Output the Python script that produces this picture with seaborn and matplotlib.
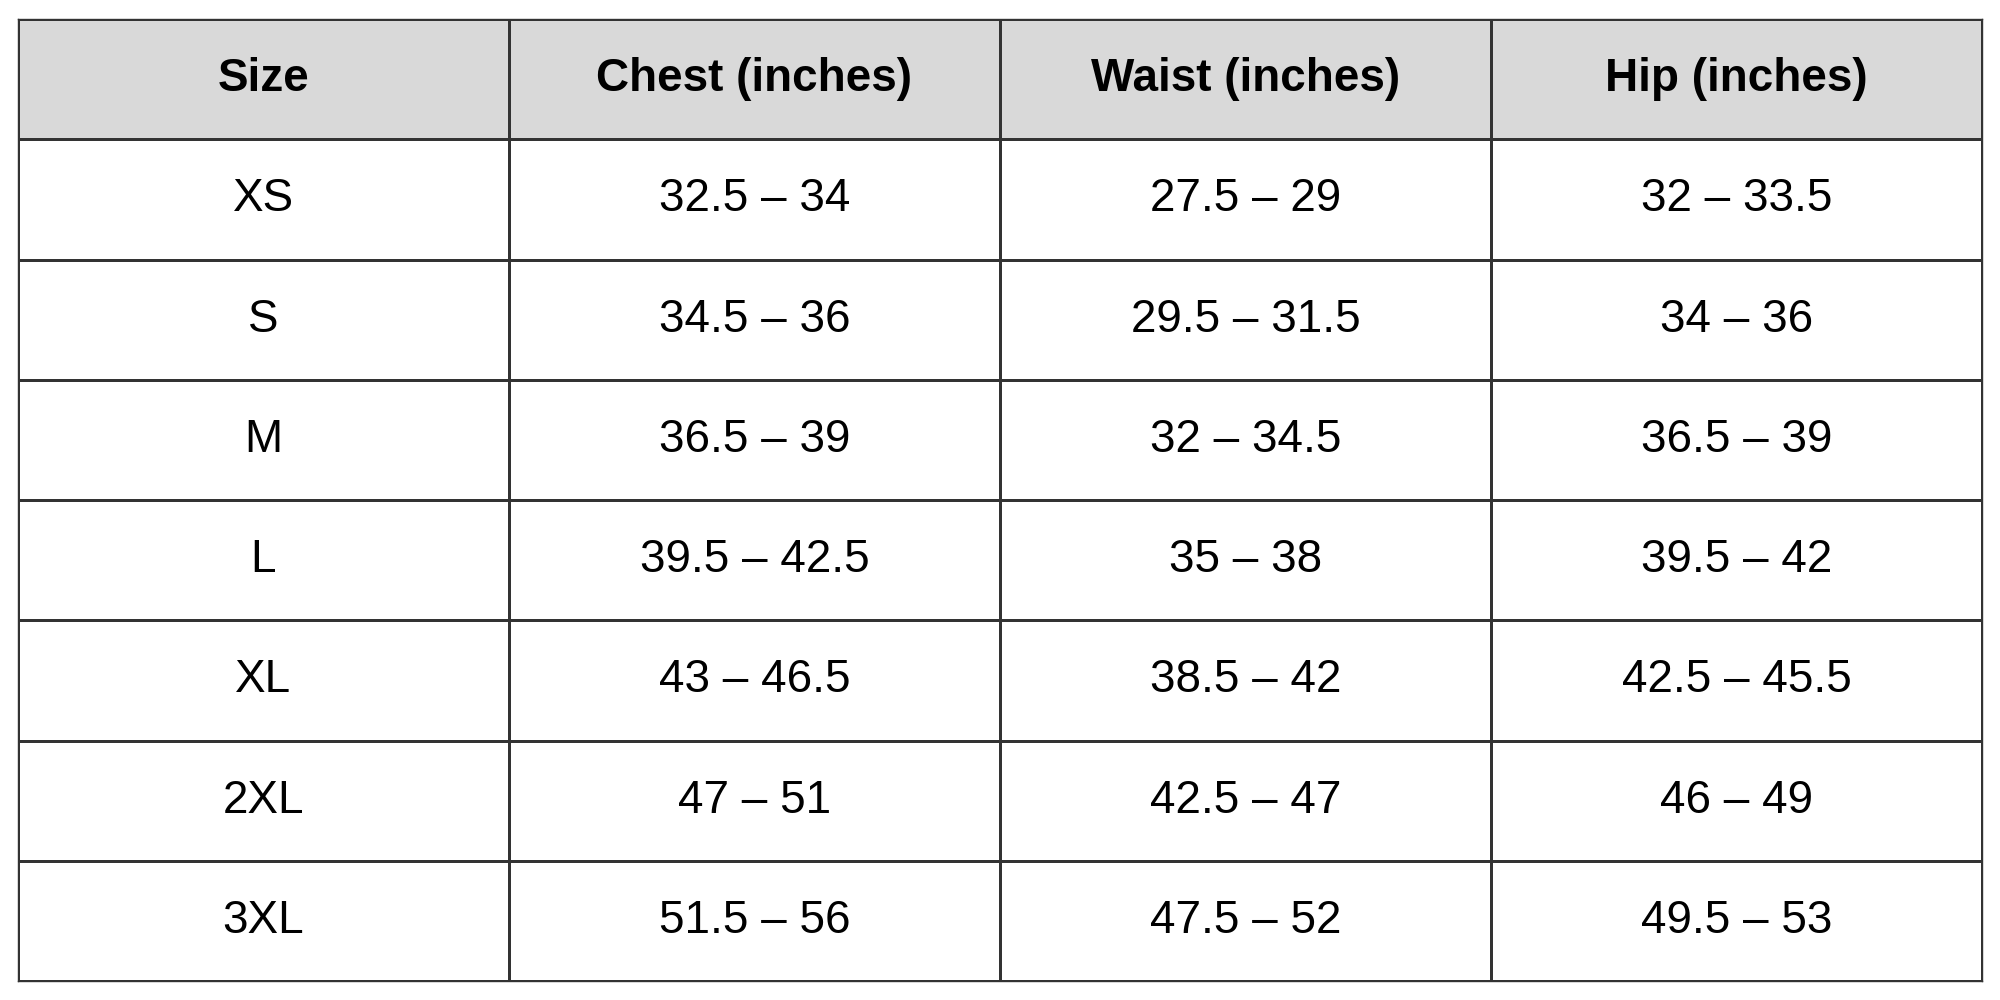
import matplotlib
matplotlib.use("Agg")
import matplotlib.pyplot as plt
import seaborn as sns
import numpy as np
import pandas as pd
from matplotlib.colors import ListedColormap

# table contents
columns = ["Size", "Chest (inches)", "Waist (inches)", "Hip (inches)"]
sizes = ["XS", "S", "M", "L", "XL", "2XL", "3XL"]
chest = ["32.5 – 34", "34.5 – 36", "36.5 – 39", "39.5 – 42.5", "43 – 46.5", "47 – 51", "51.5 – 56"]
waist = ["27.5 – 29", "29.5 – 31.5", "32 – 34.5", "35 – 38", "38.5 – 42", "42.5 – 47", "47.5 – 52"]
hip = ["32 – 33.5", "34 – 36", "36.5 – 39", "39.5 – 42", "42.5 – 45.5", "46 – 49", "49.5 – 53"]

sns.set_theme(style="white")
plt.rcParams['font.family'] = ['Liberation Sans', 'DejaVu Sans']

body = pd.DataFrame({"Size": sizes, "Chest (inches)": chest,
                     "Waist (inches)": waist, "Hip (inches)": hip})
labels = np.vstack([np.array(columns), body.values])
shade = np.zeros(labels.shape)
shade[0, :] = 1

fig = plt.figure(figsize=(20, 10), dpi=100)
ax = fig.add_axes([0.009, 0.019, 0.982, 0.962])
sns.heatmap(shade, annot=False, cmap=ListedColormap(["white", "#d9d9d9"]),
            cbar=False, linewidths=1.0, linecolor="#333333", ax=ax,
            xticklabels=False, yticklabels=False)

for i in range(labels.shape[0]):
    for j in range(labels.shape[1]):
        ax.text(j + 0.5, i + 0.5, labels[i, j], ha="center", va="center",
                fontsize=33, fontweight="bold" if i == 0 else "normal", color="black")

for spine in ax.spines.values():
    spine.set_visible(True)
    spine.set_color("#333333")
    spine.set_linewidth(1.0)

plt.savefig("out.png", dpi=100)
plt.close()
